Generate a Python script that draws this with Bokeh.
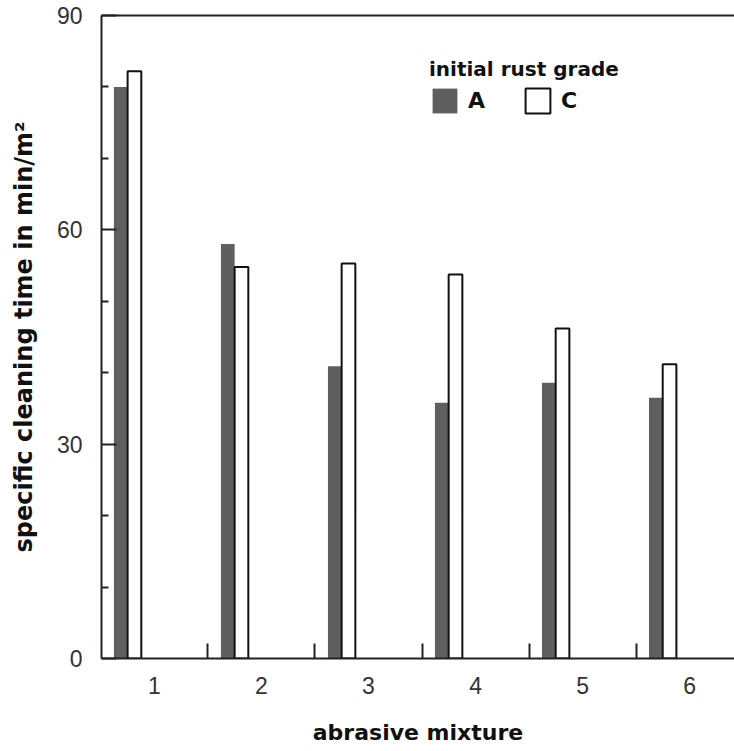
from bokeh.plotting import figure
from bokeh.models import (FixedTicker, LinearAxis, Legend, LegendItem,
                          ColumnDataSource, Range1d)
from bokeh.transform import dodge
from bokeh.embed import file_html
from bokeh.resources import INLINE

# ---- data ----
mixtures = [1, 2, 3, 4, 5, 6]
grade_a = [80.0, 58.0, 40.9, 35.8, 38.6, 36.5]
grade_c = [82.2, 54.8, 55.3, 53.75, 46.2, 41.2]
y_ticks = [0, 30, 60, 90]
y_minor_ticks = [10, 20, 40, 50, 70, 80]
x_boundaries = [1.5, 2.5, 3.5, 4.5, 5.5]
series_labels = ["A", "C"]
legend_title = "initial rust grade"
x_title = "abrasive mixture"
y_title = "specific cleaning time in min/m²"

src = ColumnDataSource(dict(x=mixtures, a=grade_a, c=grade_c))

p = figure(width=734, height=751,
           x_range=Range1d(0.505, 6.42), y_range=Range1d(0, 90),
           output_backend="svg", toolbar_location=None,
           min_border_left=101, min_border_right=0,
           min_border_top=15, min_border_bottom=93)
p.outline_line_color = None
p.xgrid.grid_line_color = None
p.ygrid.grid_line_color = None
p.background_fill_color = "white"
p.border_fill_color = "white"

ra = p.vbar(x=dodge('x', -0.315), top='a', width=0.128, bottom=0, source=src,
            fill_color="#5f5f5f", line_color=None)
rc = p.vbar(x=dodge('x', -0.187), top='c', width=0.128, bottom=0, source=src,
            fill_color="white", line_color="#111111", line_width=2)

AXIS_COLOR = "#222222"
TICK_FONT = "Liberation Sans"
LABEL_FONT = "DejaVu Sans"

# x axis
xa = p.xaxis[0]
xa.ticker = FixedTicker(ticks=mixtures, minor_ticks=x_boundaries)
xa.major_tick_in = 0
xa.major_tick_out = 0
xa.minor_tick_in = 15
xa.minor_tick_out = 0
xa.minor_tick_line_width = 2
xa.minor_tick_line_color = AXIS_COLOR
xa.axis_line_width = 2
xa.axis_line_color = AXIS_COLOR
xa.major_label_text_font = TICK_FONT
xa.major_label_text_font_size = "23px"
xa.major_label_text_color = "#333333"
xa.major_label_standoff = 18
xa.axis_label = x_title
xa.axis_label_text_font = LABEL_FONT
xa.axis_label_text_font_style = "bold"
xa.axis_label_text_font_size = "22px"
xa.axis_label_text_color = "#111111"
xa.axis_label_standoff = 23

# y axis
ya = p.yaxis[0]
ya.ticker = FixedTicker(ticks=y_ticks, minor_ticks=y_minor_ticks)
ya.major_tick_in = 15
ya.major_tick_out = 0
ya.minor_tick_in = 7
ya.minor_tick_out = 0
ya.major_tick_line_width = 2
ya.minor_tick_line_width = 2
ya.major_tick_line_color = AXIS_COLOR
ya.minor_tick_line_color = AXIS_COLOR
ya.axis_line_width = 2
ya.axis_line_color = AXIS_COLOR
ya.major_label_text_font = TICK_FONT
ya.major_label_text_font_size = "23px"
ya.major_label_text_color = "#333333"
ya.major_label_standoff = 19
ya.axis_label = y_title
ya.axis_label_text_font = LABEL_FONT
ya.axis_label_text_font_style = "bold"
ya.axis_label_text_font_size = "24px"
ya.axis_label_text_color = "#111111"
ya.axis_label_standoff = 16

# top frame line
top = LinearAxis(ticker=FixedTicker(ticks=[]), axis_line_width=2,
                 axis_line_color=AXIS_COLOR, major_tick_line_color=None,
                 minor_tick_line_color=None, major_label_standoff=0,
                 major_label_text_font_size="0px")
p.add_layout(top, "above")

legend = Legend(items=[LegendItem(label=series_labels[0], renderers=[ra]),
                       LegendItem(label=series_labels[1], renderers=[rc])],
                title=legend_title, orientation="horizontal",
                location=(328, 542), padding=0, margin=0, spacing=14,
                glyph_width=31, glyph_height=31, label_standoff=8,
                label_width=40, title_standoff=4,
                border_line_color=None, background_fill_alpha=0)
legend.title_text_font = LABEL_FONT
legend.title_text_font_style = "bold"
legend.title_text_font_size = "20px"
legend.title_text_color = "#111111"
legend.label_text_font = LABEL_FONT
legend.label_text_font_style = "bold"
legend.label_text_font_size = "22px"
legend.label_text_color = "#111111"
legend.label_text_baseline = "middle"
p.add_layout(legend, "center")

open("out.html", "w").write(file_html(p, INLINE))
